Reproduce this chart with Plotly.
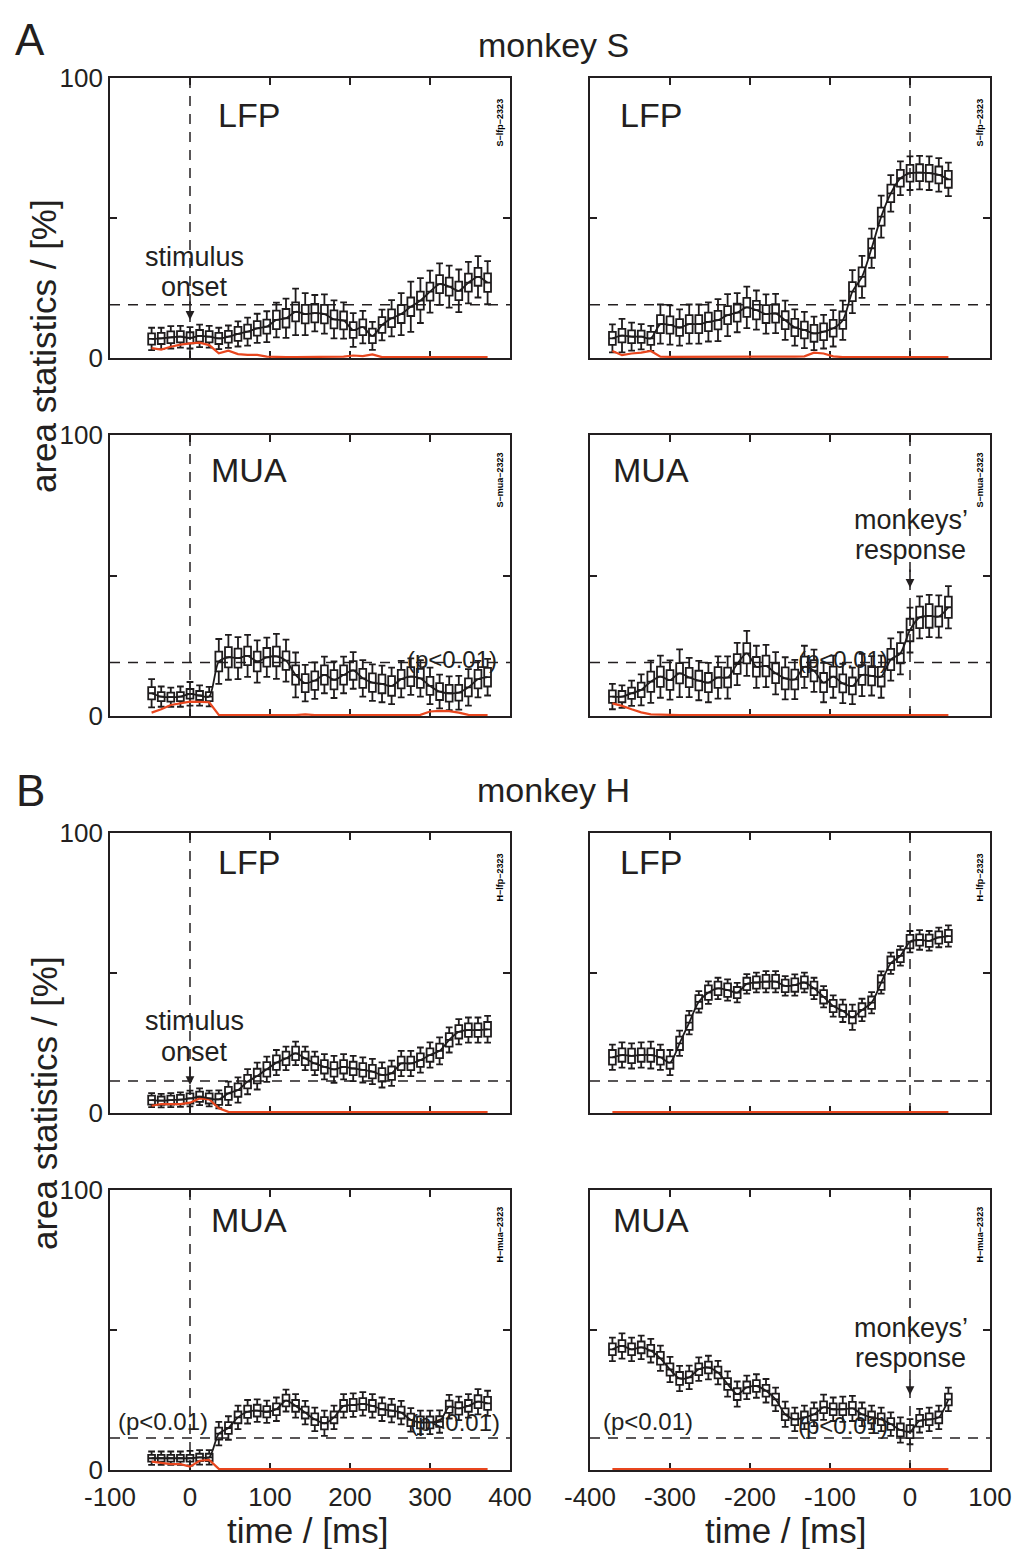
import plotly.graph_objects as go

W, H = 1015, 1549
FONT = "Liberation Sans, Arial, Helvetica, sans-serif"
INK = "#231F20"
RED = "#E8461E"

# ---------------- data ----------------
time_left = [-48, -36, -24, -12, 0, 12, 24, 36, 48, 60, 72, 84, 96, 108, 120, 132, 144, 156,
             168, 180, 192, 204, 216, 228, 240, 252, 264, 276, 288, 300, 312, 324, 336, 348, 360, 372]
time_right = [-372, -360, -348, -336, -324, -312, -300, -288, -276, -264, -252, -240, -228, -216,
              -204, -192, -180, -168, -156, -144, -132, -120, -108, -96, -84, -72, -60, -48, -36,
              -24, -12, 0, 12, 24, 36, 48]

# monkey S, LFP, aligned to stimulus onset
s_lfp_stim_med = [6.8, 7.0, 7.4, 7.6, 7.2, 7.9, 7.6, 7.0, 7.6, 8.6, 9.4, 10.6, 11.2, 13.6, 14.2, 16.5, 15.7, 16.0,
                  15.7, 13.8, 13.4, 10.0, 11.0, 7.9, 11.8, 14.2, 15.7, 18.3, 20.5, 23.7, 26.4, 25.5, 24.0, 26.9, 29.0, 26.9]
s_lfp_stim_box = [2.0, 2.0, 2.1, 2.0, 2.0, 2.1, 2.0, 2.0, 2.1, 2.5, 2.5, 2.6, 2.5, 3.3, 3.3, 3.4, 3.3, 3.3,
                  3.3, 3.2, 3.2, 2.8, 2.8, 2.6, 2.8, 3.2, 3.2, 3.3, 3.2, 3.2, 3.2, 3.2, 3.3, 3.2, 3.2, 3.3]
s_lfp_stim_whi = [4.0, 3.8, 4.0, 3.9, 3.8, 4.0, 3.9, 3.8, 4.0, 4.5, 5.0, 5.2, 5.5, 6.2, 7.0, 8.3, 7.5, 6.5,
                  7.0, 6.8, 6.5, 6.0, 5.8, 5.0, 5.5, 6.5, 7.5, 9.0, 8.0, 7.5, 7.4, 7.5, 7.6, 7.4, 7.4, 7.7]
s_lfp_stim_p = [3.5, 3.0, 4.0, 4.8, 5.2, 5.5, 4.6, 1.7, 2.6, 1.4, 1.1, 1.1, 0.5, 0.3, 0.3, 0.3, 0.3, 0.3,
                0.3, 0.3, 0.5, 0.9, 0.7, 1.3, 0.3, 0.3, 0.3, 0.3, 0.3, 0.3, 0.3, 0.3, 0.3, 0.3, 0.3, 0.3]

# monkey S, LFP, aligned to response
s_lfp_resp_med = [7.0, 8.0, 7.6, 7.6, 7.0, 12.1, 11.8, 10.9, 12.1, 12.1, 12.9, 13.5, 15.3, 16.2, 18.1, 17.1, 15.7, 15.9,
                  13.5, 10.9, 10.0, 8.8, 9.4, 10.6, 13.5, 23.7, 29.0, 39.2, 50.5, 58.8, 64.2, 66.0, 66.2, 66.0, 65.4, 63.8]
s_lfp_resp_box = [2.3, 2.4, 2.3, 2.2, 2.3, 3.2, 3.1, 3.0, 3.2, 3.2, 3.3, 3.3, 3.2, 3.2, 3.4, 3.3, 3.2, 3.3,
                  3.2, 3.1, 3.0, 3.0, 3.0, 3.0, 3.1, 3.4, 3.4, 3.4, 3.2, 3.1, 3.0, 3.0, 3.0, 3.0, 3.0, 3.0]
s_lfp_resp_whi = [5.0, 6.0, 5.0, 4.5, 4.5, 7.0, 7.0, 6.5, 7.0, 7.0, 7.0, 7.5, 7.5, 7.0, 7.4, 7.0, 7.0, 7.0,
                  7.0, 6.5, 6.5, 6.0, 6.0, 6.5, 7.0, 7.7, 7.5, 7.0, 7.5, 6.5, 6.0, 6.0, 6.0, 6.0, 6.0, 6.0]
s_lfp_resp_p = [2.5, 1.0, 1.6, 1.9, 2.5, 0.5, 0.4, 0.4, 0.4, 0.4, 0.3, 0.3, 0.3, 0.3, 0.3, 0.3, 0.3, 0.3,
                0.4, 0.5, 0.6, 1.9, 1.6, 0.6, 0.3, 0.3, 0.3, 0.3, 0.3, 0.3, 0.3, 0.3, 0.3, 0.3, 0.3, 0.3]

# monkey S, MUA, aligned to stimulus onset
s_mua_stim_med = [8.1, 6.9, 6.7, 6.9, 7.9, 7.3, 6.9, 19.4, 20.9, 20.6, 21.4, 19.4, 20.9, 21.2, 19.7, 14.6, 11.7, 12.6,
                  14.6, 12.9, 14.6, 16.2, 13.4, 11.9, 11.4, 10.7, 13.1, 14.0, 13.4, 10.7, 8.7, 8.1, 8.3, 10.2, 13.1, 13.8]
s_mua_stim_box = [2.2, 1.6, 1.6, 1.6, 1.7, 1.6, 1.6, 3.5, 3.6, 3.4, 3.3, 3.5, 3.3, 3.5, 3.3, 3.4, 3.2, 3.3,
                  3.4, 3.4, 3.4, 3.3, 3.4, 3.3, 3.3, 3.5, 3.3, 3.4, 3.4, 3.2, 3.0, 3.0, 2.8, 3.2, 3.3, 3.3]
s_mua_stim_whi = [5.0, 3.6, 3.4, 3.6, 4.2, 3.6, 3.5, 8.0, 8.0, 7.5, 7.5, 7.5, 7.0, 8.0, 7.5, 8.0, 6.5, 6.5,
                  6.5, 6.5, 6.5, 6.5, 6.5, 6.5, 6.5, 6.5, 6.5, 6.5, 6.5, 6.5, 6.0, 6.0, 6.0, 6.5, 6.5, 6.5]
s_mua_stim_p = [1.2, 2.4, 3.9, 4.5, 5.1, 5.0, 4.9, 0.4, 0.3, 0.3, 0.3, 0.3, 0.3, 0.3, 0.3, 0.3, 0.6, 0.3,
                0.3, 0.3, 0.3, 0.3, 0.3, 0.3, 0.3, 0.3, 0.3, 0.3, 0.4, 1.6, 1.8, 1.7, 1.2, 0.4, 0.3, 0.3]

# monkey S, MUA, aligned to response
s_mua_resp_med = [6.9, 6.9, 8.1, 9.3, 12.2, 14.0, 12.8, 15.2, 13.7, 12.6, 11.9, 13.7, 13.7, 18.5, 22.3, 17.5, 17.8, 15.2,
                  13.4, 13.0, 17.5, 16.1, 11.9, 14.0, 11.6, 10.7, 14.6, 14.3, 14.0, 20.1, 22.3, 30.6, 35.1, 35.6, 35.4, 38.7]
s_mua_resp_box = [2.2, 2.0, 2.0, 2.6, 3.6, 3.6, 3.5, 3.6, 3.4, 3.5, 3.4, 3.7, 3.5, 3.5, 3.6, 3.5, 3.7, 3.5,
                  3.9, 3.5, 3.6, 3.8, 3.4, 3.6, 3.2, 3.0, 3.5, 3.4, 3.5, 3.8, 3.6, 4.0, 3.8, 4.2, 3.6, 3.8]
s_mua_resp_whi = [4.5, 4.0, 4.5, 5.5, 7.5, 7.5, 7.0, 8.5, 7.0, 7.0, 7.0, 7.5, 7.5, 7.5, 8.0, 7.5, 7.5, 7.5,
                  7.5, 7.0, 7.5, 7.5, 7.0, 7.5, 7.0, 6.5, 7.5, 7.0, 7.5, 7.5, 7.5, 8.0, 7.5, 7.5, 7.5, 7.5]
s_mua_resp_p = [4.5, 3.6, 2.4, 1.3, 0.6, 0.4, 0.4, 0.3, 0.4, 0.3, 0.3, 0.3, 0.4, 0.3, 0.3, 0.3, 0.3, 0.4,
                0.3, 0.3, 0.4, 0.4, 0.3, 0.3, 0.3, 0.3, 0.3, 0.3, 0.3, 0.3, 0.3, 0.3, 0.3, 0.3, 0.3, 0.3]

# monkey H, LFP, aligned to stimulus onset
h_lfp_stim_med = [4.6, 4.4, 4.6, 4.8, 5.2, 5.8, 5.2, 4.9, 7.0, 8.2, 11.2, 13.2, 15.6, 18.0, 19.5, 21.3, 19.5, 17.7,
                  16.5, 15.6, 16.5, 15.9, 15.4, 14.8, 13.6, 14.2, 17.7, 17.7, 18.9, 20.7, 22.2, 26.1, 29.0, 29.6, 29.6, 29.9]
h_lfp_stim_box = [1.6, 1.5, 1.6, 1.7, 1.8, 1.8, 1.8, 2.0, 2.3, 2.4, 2.4, 2.6, 2.6, 2.6, 2.4, 2.4, 2.4, 2.4,
                  2.4, 2.6, 2.4, 2.4, 2.4, 2.4, 2.4, 2.4, 2.4, 2.4, 2.4, 2.4, 2.6, 2.4, 2.4, 2.4, 2.4, 2.6]
h_lfp_stim_whi = [2.5, 2.4, 2.5, 2.6, 2.8, 3.0, 2.8, 3.2, 4.2, 4.5, 4.5, 4.8, 4.5, 4.5, 4.2, 4.2, 4.2, 4.2,
                  4.5, 4.8, 4.5, 4.5, 4.5, 4.5, 4.5, 4.5, 4.5, 4.5, 4.5, 4.5, 4.8, 4.5, 4.5, 4.5, 4.5, 4.8]
h_lfp_stim_p = [2.6, 3.2, 3.2, 3.2, 3.7, 5.2, 4.9, 1.7, 0.4, 0.3, 0.3, 0.3, 0.3, 0.3, 0.3, 0.3, 0.3, 0.3,
                0.3, 0.3, 0.3, 0.3, 0.3, 0.3, 0.3, 0.3, 0.3, 0.3, 0.3, 0.3, 0.3, 0.3, 0.3, 0.3, 0.3, 0.3]

# monkey H, LFP, aligned to response
h_lfp_resp_med = [19.9, 20.7, 20.4, 20.7, 20.7, 19.9, 18.0, 24.9, 32.3, 39.7, 43.0, 44.5, 43.9, 43.0, 46.1, 46.6, 46.9, 46.9,
                  45.4, 45.7, 46.6, 44.5, 41.5, 38.2, 36.5, 34.2, 36.8, 39.4, 46.6, 53.5, 56.1, 61.2, 61.8, 61.5, 62.7, 63.2]
h_lfp_resp_box = [2.6, 2.4, 2.6, 2.4, 2.4, 2.6, 2.2, 2.4, 2.6, 2.4, 2.6, 2.4, 2.4, 2.0, 2.2, 2.2, 2.4, 2.4,
                  2.2, 2.4, 2.2, 2.4, 2.4, 2.2, 2.2, 2.2, 2.4, 2.2, 2.6, 2.4, 2.2, 2.4, 2.0, 2.2, 2.2, 2.2]
h_lfp_resp_whi = [4.5, 4.5, 4.5, 4.5, 4.8, 4.5, 4.5, 4.5, 4.2, 3.8, 4.0, 3.8, 3.8, 3.5, 3.5, 3.5, 3.8, 3.8,
                  3.5, 3.8, 3.5, 3.8, 3.8, 3.8, 4.0, 4.5, 4.0, 3.8, 4.0, 3.8, 3.5, 3.8, 3.5, 3.5, 3.5, 3.8]
h_lfp_resp_p = [0.3, 0.3, 0.3, 0.3, 0.3, 0.3, 0.3, 0.3, 0.3, 0.3, 0.3, 0.3, 0.3, 0.3, 0.3, 0.3, 0.3, 0.3,
                0.3, 0.3, 0.3, 0.3, 0.3, 0.3, 0.3, 0.3, 0.3, 0.3, 0.3, 0.3, 0.3, 0.3, 0.3, 0.3, 0.3, 0.3]

# monkey H, MUA, aligned to stimulus onset
h_mua_stim_med = [4.2, 4.2, 4.2, 4.2, 4.2, 4.5, 4.5, 13.0, 15.0, 18.8, 20.8, 21.2, 20.8, 21.7, 24.8, 22.9, 20.5, 18.1,
                  16.7, 18.8, 22.9, 23.2, 23.6, 22.9, 21.7, 21.2, 20.5, 17.9, 17.0, 17.0, 17.3, 22.6, 22.0, 22.9, 24.4, 23.8]
h_mua_stim_box = [1.2, 1.2, 1.2, 1.2, 1.2, 1.3, 1.3, 2.1, 2.1, 2.1, 2.2, 2.1, 2.0, 2.1, 2.1, 2.1, 2.1, 2.1,
                  2.2, 2.1, 2.1, 2.2, 2.1, 2.1, 2.1, 2.1, 2.1, 2.2, 2.1, 2.1, 1.9, 2.2, 2.2, 2.1, 2.3, 2.3]
h_mua_stim_whi = [2.4, 2.4, 2.4, 2.4, 2.6, 2.6, 2.6, 4.2, 4.2, 4.2, 4.2, 4.0, 4.0, 4.2, 3.9, 4.2, 4.2, 4.2,
                  4.5, 4.2, 4.2, 4.2, 4.2, 4.2, 4.2, 4.2, 4.2, 4.2, 4.2, 4.2, 4.0, 4.2, 4.2, 4.2, 4.5, 4.5]
h_mua_stim_p = [3.0, 2.6, 2.1, 2.1, 1.2, 3.3, 3.6, 0.4, 0.3, 0.3, 0.3, 0.3, 0.3, 0.3, 0.3, 0.3, 0.3, 0.3,
                0.3, 0.3, 0.3, 0.3, 0.3, 0.3, 0.3, 0.3, 0.3, 0.3, 0.3, 0.3, 0.3, 0.3, 0.3, 0.3, 0.3, 0.3]

# monkey H, MUA, aligned to response
h_mua_resp_med = [43.1, 44.3, 43.1, 43.8, 42.6, 39.9, 35.9, 32.7, 33.1, 36.0, 36.6, 34.8, 30.7, 27.1, 29.5, 30.0, 28.3, 25.2,
                  19.9, 18.1, 18.8, 19.9, 22.4, 21.7, 21.7, 22.0, 19.9, 18.8, 18.1, 16.4, 14.3, 13.7, 17.6, 18.1, 18.8, 25.2]
h_mua_resp_box = [2.1, 2.1, 2.1, 2.1, 2.1, 2.3, 2.2, 2.3, 2.1, 2.1, 2.1, 2.1, 2.1, 2.1, 2.1, 2.1, 2.1, 2.1,
                  2.1, 2.1, 2.1, 2.1, 2.1, 2.1, 2.1, 2.3, 2.1, 2.1, 2.1, 2.1, 2.3, 2.3, 2.1, 2.1, 2.1, 2.1]
h_mua_resp_whi = [4.2, 4.5, 4.2, 4.2, 4.2, 4.5, 4.5, 4.5, 4.2, 4.2, 4.2, 4.2, 4.5, 4.5, 4.2, 4.2, 4.2, 4.2,
                  4.5, 4.2, 4.2, 4.2, 4.5, 4.2, 4.5, 4.5, 4.2, 4.2, 4.2, 4.2, 4.5, 4.5, 4.2, 4.2, 4.2, 4.2]
h_mua_resp_p = [0.3, 0.3, 0.3, 0.3, 0.3, 0.3, 0.3, 0.3, 0.3, 0.3, 0.3, 0.3, 0.3, 0.3, 0.3, 0.3, 0.3, 0.3,
                0.3, 0.3, 0.3, 0.3, 0.3, 0.3, 0.3, 0.3, 0.3, 0.3, 0.3, 0.3, 0.3, 0.3, 0.3, 0.3, 0.3, 0.3]

thresholds = {"S": 19.0, "H": 11.4}
x_ticks_left = [-100, 0, 100, 200, 300, 400]
x_ticks_right = [-400, -300, -200, -100, 0, 100]
y_ticks = [0, 50, 100]
y_tick_text = ["0", "", "100"]

panels = [
    # (monkey, label, column, med, box, whisker, p, code)
    ("S", "LFP", "left", s_lfp_stim_med, s_lfp_stim_box, s_lfp_stim_whi, s_lfp_stim_p, "S\u2212lfp\u22122323"),
    ("S", "LFP", "right", s_lfp_resp_med, s_lfp_resp_box, s_lfp_resp_whi, s_lfp_resp_p, "S\u2212lfp\u22122323"),
    ("S", "MUA", "left", s_mua_stim_med, s_mua_stim_box, s_mua_stim_whi, s_mua_stim_p, "S\u2212mua\u22122323"),
    ("S", "MUA", "right", s_mua_resp_med, s_mua_resp_box, s_mua_resp_whi, s_mua_resp_p, "S\u2212mua\u22122323"),
    ("H", "LFP", "left", h_lfp_stim_med, h_lfp_stim_box, h_lfp_stim_whi, h_lfp_stim_p, "H\u2212lfp\u22122323"),
    ("H", "LFP", "right", h_lfp_resp_med, h_lfp_resp_box, h_lfp_resp_whi, h_lfp_resp_p, "H\u2212lfp\u22122323"),
    ("H", "MUA", "left", h_mua_stim_med, h_mua_stim_box, h_mua_stim_whi, h_mua_stim_p, "H\u2212mua\u22122323"),
    ("H", "MUA", "right", h_mua_resp_med, h_mua_resp_box, h_mua_resp_whi, h_mua_resp_p, "H\u2212mua\u22122323"),
]

# ---------------- layout geometry (pixels) ----------------
col_px = {"left": (110, 510), "right": (590, 990)}
row_px = [(78, 358), (435, 716), (833, 1113), (1190, 1470)]


def px_x(x):
    return x / W


def px_y(y):
    return 1 - y / H


fig = go.Figure()
layout = dict(
    width=W, height=H, margin=dict(l=0, r=0, t=0, b=0, autoexpand=False),
    paper_bgcolor="white", plot_bgcolor="white", showlegend=False,
    boxmode="overlay", font=dict(family=FONT, color=INK, size=26),
)
shapes = []
annotations = []

for i, (monkey, label, col, med, bh, wh, pv, code) in enumerate(panels):
    n = i + 1
    row = i // 2
    xs = time_left if col == "left" else time_right
    xa = "x" if n == 1 else f"x{n}"
    ya = "y" if n == 1 else f"y{n}"
    q1 = [m - b for m, b in zip(med, bh)]
    q3 = [m + b for m, b in zip(med, bh)]
    lo = [m - w for m, w in zip(med, wh)]
    hi = [m + w for m, w in zip(med, wh)]

    fig.add_trace(go.Scatter(x=xs, y=pv, mode="lines", xaxis=xa, yaxis=ya,
                             line=dict(color=RED, width=2.2), hoverinfo="skip"))
    fig.add_trace(go.Box(x=xs, q1=q1, median=med, q3=q3, lowerfence=lo, upperfence=hi,
                         width=8.5, whiskerwidth=1, boxpoints=False, xaxis=xa, yaxis=ya,
                         line=dict(color="#1E1B1C", width=1.8), fillcolor="rgba(0,0,0,0)",
                         hoverinfo="skip"))
    fig.add_trace(go.Scatter(x=xs, y=med, mode="lines", xaxis=xa, yaxis=ya,
                             line=dict(color="#1E1B1C", width=1.8, shape="spline", smoothing=0.8),
                             hoverinfo="skip"))

    x0p, x1p = col_px[col]
    y0p, y1p = row_px[row]
    bottom = row == 3
    xkey = "xaxis" if n == 1 else f"xaxis{n}"
    ykey = "yaxis" if n == 1 else f"yaxis{n}"
    xticks = x_ticks_left if col == "left" else x_ticks_right
    layout[xkey] = dict(
        domain=[px_x(x0p), px_x(x1p)], range=[xticks[0], xticks[-1]], anchor=ya,
        tickvals=xticks, ticktext=[str(t) for t in xticks], showticklabels=bottom,
        ticks="inside", ticklen=7, tickwidth=1.5, tickcolor=INK, automargin=False,
        ticklabelstandoff=3,
        showline=True, linecolor=INK, linewidth=1.7, mirror="ticks", layer="below traces",
        showgrid=False, zeroline=False, tickfont=dict(size=26, color=INK, family=FONT),
    )
    layout[ykey] = dict(
        domain=[px_y(y1p), px_y(y0p)], range=[0, 100], anchor=xa,
        tickvals=y_ticks, ticktext=y_tick_text, showticklabels=(col == "left"),
        ticks="inside", ticklen=7, tickwidth=1.5, tickcolor=INK, automargin=False,
        showline=True, linecolor=INK, linewidth=1.7, mirror="ticks", layer="below traces",
        showgrid=False, zeroline=False, tickfont=dict(size=26, color=INK, family=FONT),
    )

    dash = "10px,8px"
    shapes.append(dict(type="line", xref=f"{xa} domain", yref=ya, x0=0, x1=1,
                       y0=thresholds[monkey], y1=thresholds[monkey],
                       line=dict(color=INK, width=1.5, dash=dash), layer="below"))
    shapes.append(dict(type="line", xref=xa, yref=f"{ya} domain", x0=0, x1=0, y0=0, y1=1,
                       line=dict(color=INK, width=1.5, dash=dash), layer="below"))

    # panel label
    lab_x = 74 if col == "left" else -324
    lab_y = {0: 86.8, 1: 87.5, 2: 89.6, 3: 89.3}[row]
    annotations.append(dict(x=lab_x, y=lab_y, xref=xa, yref=ya, text=label, showarrow=False,
                            font=dict(size=34, color=INK, family=FONT)))
    # file code
    code_x = 387 if col == "left" else 87
    annotations.append(dict(x=code_x, y=84, xref=xa, yref=ya, text=f"<b>{code}</b>", showarrow=False,
                            textangle=-90, font=dict(size=9, color="#000000", family=FONT)))

    def txt(x, y, s, size):
        annotations.append(dict(x=x, y=y, xref=xa, yref=ya, text=s, showarrow=False,
                                font=dict(size=size, color=INK, family=FONT)))

    def arrow(tail, tip):
        annotations.append(dict(x=0, y=tip, xref=xa, yref=ya, ax=0, ay=tail, axref=xa, ayref=ya,
                                text="", showarrow=True, arrowhead=2, arrowsize=1.1,
                                arrowwidth=1.6, arrowcolor=INK, standoff=0))

    if n == 1:
        txt(6, 36.1, "stimulus", 27)
        txt(6, 25.4, "onset", 27)
        arrow(20.7, 13.6)
    if n == 5:
        txt(6, 32.9, "stimulus", 27)
        txt(6, 21.8, "onset", 27)
        arrow(17.1, 10.0)
    if n == 3:
        txt(327, 20, "(p<0.01)", 24)
    if n == 4:
        txt(1, 69.7, "monkeys\u2019", 27)
        txt(1, 59.1, "response", 27)
        arrow(52.7, 45.6)
        txt(-84, 20, "(p<0.01)", 24)
    if n == 7:
        txt(-34, 17.5, "(p<0.01)", 24)
        txt(331, 17, "(p<0.01)", 24)
    if n == 8:
        txt(1, 50.7, "monkeys\u2019", 27)
        txt(1, 40.0, "response", 27)
        arrow(32.9, 26.8)
        txt(-327, 17.5, "(p<0.01)", 24)
        txt(-84, 16, "(p<0.01)", 24)


def paper_text(x, y, s, size, angle=0):
    annotations.append(dict(x=px_x(x), y=px_y(y), xref="paper", yref="paper", text=s,
                            showarrow=False, textangle=angle, xanchor="center", yanchor="middle",
                            font=dict(size=size, color=INK, family=FONT)))


paper_text(30, 40, "A", 44)
paper_text(553, 45, "monkey S", 34)
paper_text(30, 790, "B", 44)
paper_text(553, 790, "monkey H", 34)
paper_text(44, 346, "area statistics / [%]", 35, -90)
paper_text(44, 1103, "area statistics / [%]", 35, -90)
paper_text(307, 1530, "time / [ms]", 35)
paper_text(785, 1530, "time / [ms]", 35)

layout["shapes"] = shapes
layout["annotations"] = annotations
fig.update_layout(**layout)
fig.write_html("out.html")
